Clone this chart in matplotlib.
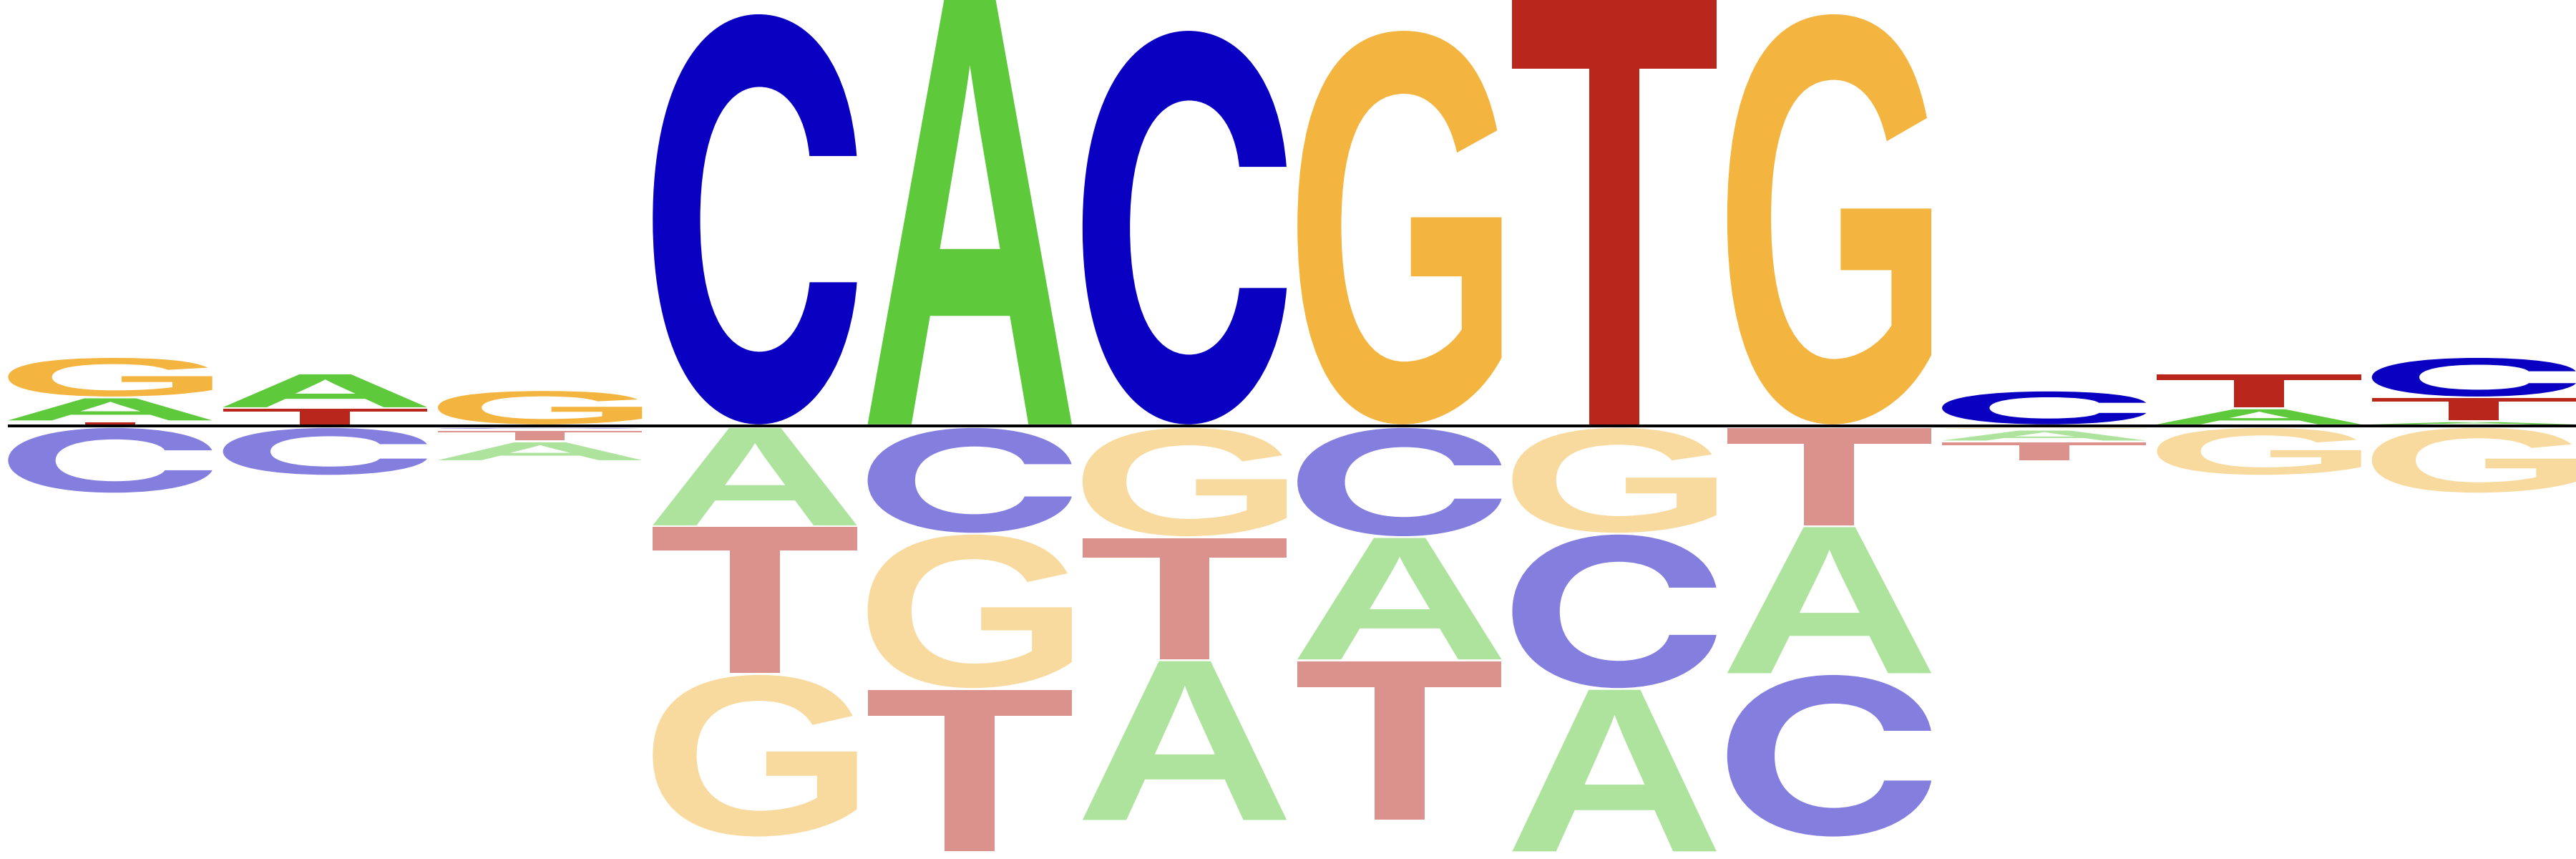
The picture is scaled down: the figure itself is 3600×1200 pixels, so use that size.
import matplotlib
matplotlib.use('Agg')
import matplotlib.pyplot as plt
from matplotlib.textpath import TextPath
from matplotlib.patches import PathPatch
from matplotlib.font_manager import FontProperties
from matplotlib.transforms import Affine2D

# Positionen und Buchstabenhoehen (positiv = oberhalb, negativ = unterhalb der Grundlinie)
positions = list(range(1, 13))
A = [0.104, 0.155, -0.084, -0.459, 2.000, -0.748, -0.572, -0.761, -0.688, -0.047, 0.071, 0.010]
C = [-0.305, -0.221, -0.004, 1.932, -0.494, 1.854, -0.510, -0.723, -0.761, 0.155, 0.0, 0.182]
G = [0.182, 0.0, 0.157, -0.761, -0.723, -0.510, 1.854, -0.494, 1.932, -0.004, -0.221, -0.305]
T = [0.010, 0.072, -0.047, -0.688, -0.761, -0.572, -0.748, 2.000, -0.459, -0.084, 0.155, 0.104]

letters = {'A': A, 'C': C, 'G': G, 'T': T}
colors = {'A': '#5DC93B', 'C': '#0A00C1', 'G': '#F3B53F', 'T': '#B9261B'}

# C mit waagerechten Enden (Inter), Rest im Helvetica-Stil (Liberation Sans)
fonts = {
    'A': FontProperties(family='Liberation Sans', weight='bold'),
    'C': FontProperties(family='Inter', weight='bold'),
    'G': FontProperties(family='Liberation Sans', weight='bold'),
    'T': FontProperties(family='Liberation Sans', weight='bold'),
}
width = 0.95
gap = 0.0085


def letter_patch(ch, x, y, w, h, color, alpha):
    # Glyph auf das Rechteck (x, y, w, h) strecken
    tp = TextPath((0, 0), ch, size=1, prop=fonts[ch])
    bb = tp.get_extents()
    tr = (Affine2D().translate(-bb.x0, -bb.y0)
          .scale(w / bb.width, h / bb.height)
          .translate(x, y))
    return PathPatch(tr.transform_path(tp), facecolor=color, edgecolor='none',
                     alpha=alpha, antialiased=True)


fig = plt.figure(figsize=(12, 4), dpi=300)
ax = fig.add_axes([0, 0, 1, 1])

for i, pos in enumerate(positions):
    x0 = pos - width / 2
    pos_items = sorted([(v[i], ch) for ch, v in letters.items() if v[i] > 0])
    neg_items = sorted([(-v[i], ch) for ch, v in letters.items() if v[i] < 0])

    # oberhalb: kleinste Buchstaben zuerst
    y = gap
    for h, ch in pos_items:
        ax.add_patch(letter_patch(ch, x0, y, width, h, colors[ch], 1.0))
        y += h + gap

    # unterhalb: kleinste Buchstaben nahe der Grundlinie
    y = -gap
    for h, ch in neg_items:
        ax.add_patch(letter_patch(ch, x0, y - h, width, h, colors[ch], 0.5))
        y -= h + gap

x_right = 12.475
ax.hlines(0, positions[0] - width / 2, x_right, colors='black', linewidth=0.96, zorder=5)

ax.set_xlim(0.4872, x_right)
ax.set_ylim(-2.0395, 2.0078)
ax.axis('off')

plt.savefig('out.png', dpi=300, facecolor='white')
